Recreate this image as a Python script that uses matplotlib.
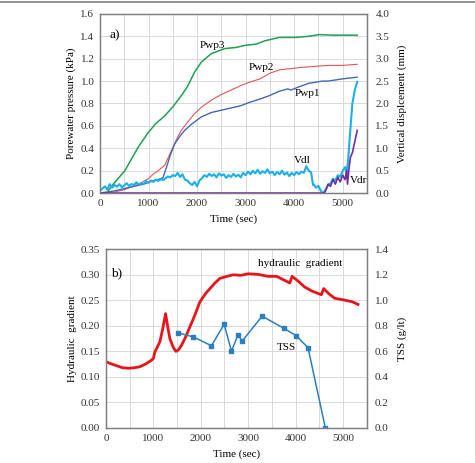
import matplotlib.pyplot as plt
from matplotlib.lines import Line2D
import numpy as np

plt.rcParams['font.family'] = ['Liberation Serif', 'DejaVu Serif']
plt.rcParams['font.size'] = 8

# Panel a) porewater pressure (kPa)
t_pwp3 = [170, 274, 513, 787, 993, 1150, 1335, 1500, 1677, 1800, 1950, 2088, 2294, 2567, 2800,
          3000, 3217, 3400, 3696, 4038, 4300, 4517, 4800, 5000, 5300]
pwp3 = [0.02, 0.08, 0.20, 0.41, 0.54, 0.62, 0.69, 0.77, 0.87, 0.95, 1.08, 1.17, 1.245, 1.29, 1.30,
        1.32, 1.33, 1.36, 1.39, 1.39, 1.40, 1.415, 1.41, 1.41, 1.41]

t_pwp2 = [0, 300, 500, 800, 1000, 1100, 1200, 1335, 1472, 1600, 1677, 1800, 1950, 2100, 2294,
          2500, 2704, 2900, 3080, 3300, 3500, 3696, 3900, 4100, 4380, 4700, 5000, 5300]
pwp2 = [0.0, 0.01, 0.03, 0.08, 0.13, 0.17, 0.20, 0.25, 0.38, 0.50, 0.56, 0.63, 0.71, 0.77, 0.83,
        0.88, 0.92, 0.96, 0.99, 1.02, 1.07, 1.10, 1.11, 1.12, 1.13, 1.14, 1.14, 1.15]

t_pwp1 = [0, 300, 600, 900, 1100, 1266, 1300, 1370, 1450, 1540, 1650, 1745, 1900, 2088, 2300,
          2500, 2700, 2900, 3080, 3300, 3491, 3700, 3868, 3936, 4107, 4300, 4586, 4700, 5000, 5300]
pwp1 = [0.0, 0.02, 0.05, 0.08, 0.11, 0.13, 0.14, 0.23, 0.34, 0.44, 0.51, 0.56, 0.62, 0.68, 0.72,
        0.74, 0.76, 0.78, 0.81, 0.84, 0.87, 0.91, 0.93, 0.92, 0.95, 0.98, 1.00, 1.00, 1.02, 1.035]

# vertical displacement (mm)
t_vdl = [0, 50, 100, 150, 200, 250, 300, 350, 400, 450, 500, 550, 600, 650, 700, 750, 800, 850,
         900, 950, 1000, 1050, 1100, 1150, 1200, 1250, 1300, 1350, 1400, 1450, 1500, 1550, 1600,
         1650, 1700, 1750, 1800, 1850, 1900, 1950, 2000, 2050, 2100, 2150, 2200, 2250, 2300, 2350,
         2400, 2450, 2500, 2550, 2600, 2650, 2700, 2750, 2800, 2850, 2900, 2950, 3000, 3050, 3100,
         3150, 3200, 3250, 3300, 3350, 3400, 3450, 3500, 3550, 3600, 3650, 3700, 3750, 3800, 3850,
         3900, 3950, 4000, 4050, 4100, 4150, 4200, 4250, 4300, 4350, 4390, 4400, 4450, 4500, 4550,
         4600, 4650, 4700, 4750, 4800, 4850, 4900, 4950, 5000, 5050, 5080, 5110, 5150, 5200, 5250,
         5300]
vdl = [0.05, 0.10, 0.15, 0.08, 0.20, 0.12, 0.18, 0.14, 0.20, 0.13, 0.17, 0.22, 0.16, 0.20, 0.18,
       0.24, 0.19, 0.22, 0.20, 0.27, 0.23, 0.28, 0.25, 0.30, 0.27, 0.31, 0.29, 0.33, 0.37, 0.35,
       0.40, 0.38, 0.45, 0.36, 0.42, 0.30, 0.28, 0.22, 0.18, 0.25, 0.15, 0.28, 0.33, 0.40, 0.36,
       0.43, 0.38, 0.42, 0.35, 0.44, 0.39, 0.42, 0.34, 0.40, 0.36, 0.43, 0.37, 0.41, 0.35, 0.45,
       0.40, 0.48, 0.42, 0.50, 0.44, 0.52, 0.43, 0.49, 0.45, 0.53, 0.44, 0.48, 0.40, 0.47, 0.42,
       0.50, 0.41, 0.46, 0.38, 0.45, 0.40, 0.47, 0.42, 0.48, 0.45, 0.60, 0.50, 0.46, 0.18,
       0.20, 0.12, 0.16, 0.05, 0.0, 0.08, 0.18, 0.22, 0.32, 0.28, 0.40, 0.36, 0.50, 0.58, 0.45,
       0.70, 1.30, 2.00, 2.30, 2.48]

t_vdr = [0, 4620, 4650, 4700, 4750, 4800, 4850, 4900, 4950, 5000, 5050, 5080, 5100, 5130, 5160,
         5200, 5230, 5260, 5300]
vdr = [0.0, 0.0, 0.05, 0.20, 0.15, 0.30, 0.20, 0.35, 0.25, 0.40, 0.30, 0.50, 0.20, 0.55, 0.80,
       0.90, 1.05, 1.20, 1.40]

# Panel b) hydraulic gradient and TSS
t_hg = [0, 100, 225, 350, 471, 600, 717, 850, 963, 1000, 1033, 1138, 1200, 1258, 1300, 1349,
        1420, 1476, 1530, 1595, 1680, 1771, 1880, 1982, 2100, 2193, 2300, 2404, 2550, 2685, 2850,
        2999, 3200, 3420, 3600, 3771, 3877, 3926, 4050, 4193, 4350, 4544, 4593, 4700, 4825, 4950,
        5106, 5200, 5317]
hg = [0.13, 0.126, 0.122, 0.118, 0.117, 0.118, 0.120, 0.126, 0.133, 0.136, 0.149, 0.169, 0.195,
      0.224, 0.200, 0.175, 0.158, 0.150, 0.153, 0.162, 0.178, 0.198, 0.222, 0.247, 0.263, 0.273,
      0.284, 0.293, 0.297, 0.300, 0.299, 0.302, 0.301, 0.297, 0.297, 0.289, 0.284, 0.297, 0.288,
      0.276, 0.268, 0.261, 0.273, 0.263, 0.254, 0.252, 0.249, 0.247, 0.242]

t_tss = [1524, 1840, 2226, 2493, 2648, 2788, 2872, 3294, 3757, 4017, 4263, 4628]
tss = [0.745, 0.714, 0.644, 0.813, 0.602, 0.732, 0.680, 0.876, 0.780, 0.722, 0.628, 0.0]

fig = plt.figure(figsize=(4.75, 4.63), dpi=100)
fig.add_artist(Line2D([0, 1], [0.996, 0.996], color='#808080', lw=1.2))

spine_col = '#7f7f7f'
grid_col = '#d9d9d9'


def style(ax):
    for s in ax.spines.values():
        s.set_color(spine_col)
        s.set_linewidth(1.0)
    ax.tick_params(length=0, pad=4, colors='#333333')
    ax.set_xlim(0, 5500)
    ax.set_xticks(np.arange(0, 5001, 1000))
    ax.set_xticks(np.arange(0, 5501, 500), minor=True)
    ax.tick_params(which='minor', length=0)
    ax.grid(True, which='both', color=grid_col, lw=0.7)
    ax.set_axisbelow(True)


# ----- a)
ax1 = fig.add_axes([0.2105, 0.583, 0.562, 0.387])
style(ax1)
ax1.set_ylim(0, 1.6)
ax1.set_yticks(np.arange(0, 1.61, 0.2))
ax1.set_yticklabels([f'{v:.1f}' for v in np.arange(0, 1.61, 0.2)])
ax1.plot(t_pwp3, pwp3, color='#1fa050', lw=1.1)
ax1.plot(t_pwp2, pwp2, color='#e0555a', lw=0.8)
ax1.plot(t_pwp1, pwp1, color='#4466b4', lw=1.0)
ax1.set_xlabel('Time (sec)', labelpad=5)
ax1.set_ylabel('Porewater pressure (kPa)', labelpad=3)

ax1r = ax1.twinx()
ax1r.set_ylim(0, 4)
ax1r.set_yticks(np.arange(0, 4.01, 0.5))
ax1r.set_yticklabels([f'{v:.1f}' for v in np.arange(0, 4.01, 0.5)])
ax1r.tick_params(length=0, pad=6, colors='#333333')
for s in ax1r.spines.values():
    s.set_color(spine_col)
ax1r.plot(t_vdl, vdl, color='#1ab0e8', lw=1.5)
ax1r.plot(t_vdr, vdr, color='#7030a0', lw=1.2)
ax1r.set_ylabel('Vertical displcement (mm)', labelpad=6)

ax1.text(308, 1.41, 'a)', ha='center', va='center', fontsize=9.5)
ax1.text(2320, 1.32, 'Pwp3', ha='center', va='center')
ax1.text(3326, 1.12, 'Pwp2', ha='center', va='center')
ax1.text(4271, 0.89, 'Pwp1', ha='center', va='center')
ax1.text(4168, 0.295, 'Vdl', ha='center', va='center')
ax1.text(5330, 0.116, 'Vdr', ha='center', va='center')

# ----- b)
ax2 = fig.add_axes([0.223, 0.0756, 0.549, 0.386])
style(ax2)
ax2.set_ylim(0, 0.35)
ax2.set_yticks(np.arange(0, 0.351, 0.05))
ax2.set_yticklabels([f'{v:.2f}' for v in np.arange(0, 0.351, 0.05)])
ax2.plot(t_hg, hg, color='#e8141a', lw=2.0)
ax2.set_xlabel('Time (sec)', labelpad=5)
ax2.set_ylabel('Hydraulic  gradient', labelpad=3)

ax2r = ax2.twinx()
ax2r.set_ylim(0, 1.4)
ax2r.set_yticks(np.arange(0, 1.41, 0.2))
ax2r.set_yticklabels([f'{v:.1f}' for v in np.arange(0, 1.41, 0.2)])
ax2r.tick_params(length=0, pad=6, colors='#333333')
for s in ax2r.spines.values():
    s.set_color(spine_col)
ax2r.plot(t_tss, tss, color='#2a7fc0', lw=1.1, marker='s', ms=3)
ax2r.set_ylabel('TSS (g/lt)', labelpad=6)

ax2.text(232, 0.303, 'b)', ha='center', va='center', fontsize=9.5)
ax2.text(4088, 0.323, 'hydraulic  gradient', ha='center', va='center')
ax2.text(3815, 0.157, 'TSS', ha='center', va='center')

fig.savefig('out.png', dpi=100)
